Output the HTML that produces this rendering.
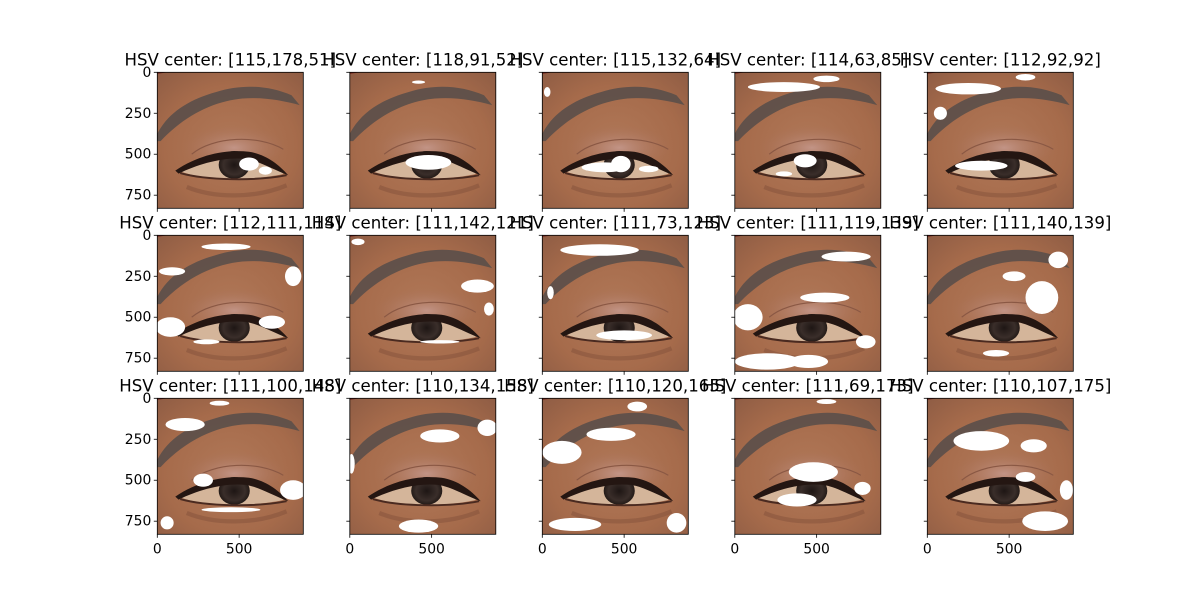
<!DOCTYPE html>
<html><head><meta charset="utf-8"><style>
body{margin:0;background:#fff;width:1200px;height:600px;overflow:hidden;font-family:"Liberation Sans","DejaVu Sans",sans-serif}
svg text{font-family:"DejaVu Sans","Liberation Sans",sans-serif}
</style></head><body>
<svg id="fig" width="1200" height="600" viewBox="0 0 1200 600" xmlns="http://www.w3.org/2000/svg">
<defs>
<radialGradient id="skin" cx="0.5" cy="0.55" r="0.75">
<stop offset="0" stop-color="#b07858"/><stop offset="0.6" stop-color="#a66b4b"/><stop offset="1" stop-color="#8e5c44"/>
</radialGradient>
<radialGradient id="lid" cx="0.5" cy="0.5" r="0.5">
<stop offset="0" stop-color="#c29486"/><stop offset="1" stop-color="#a87058" stop-opacity="0"/>
</radialGradient>
<radialGradient id="iris" cx="0.5" cy="0.5" r="0.5">
<stop offset="0" stop-color="#1e1614"/><stop offset="0.7" stop-color="#3a2e2a"/><stop offset="1" stop-color="#231a17"/>
</radialGradient>
</defs>
</svg>
<script>
const titles=["[115,178,51]","[118,91,52]","[115,132,64]","[114,63,85]","[112,92,92]",
"[112,111,114]","[111,142,121]","[111,73,123]","[111,119,139]","[111,140,139]",
"[111,100,148]","[110,134,158]","[110,120,165]","[111,69,173]","[110,107,175]"];
const yTicks=[0,250,500,750];
const xTicks=[0,500];
const imgW=892, imgH=830;
// white mask blobs per panel [cx,cy,rx,ry] in image coords
const blobs=[
[[560,560,60,40],[660,600,40,25]],
[[480,550,140,45],[420,60,40,10]],
[[380,580,140,30],[480,560,60,50],[30,120,20,30],[650,590,60,20]],
[[300,90,220,30],[560,40,80,20],[430,540,70,40],[300,620,50,15]],
[[250,100,200,35],[80,250,40,40],[600,30,60,20],[330,570,160,30]],
[[80,560,90,60],[90,220,80,25],[420,70,150,20],[830,250,50,60],[700,530,80,40],[300,650,80,15]],
[[780,310,100,40],[850,450,30,40],[50,40,40,20],[550,650,120,10]],
[[350,90,240,35],[500,610,170,30],[50,350,20,40]],
[[80,500,90,80],[200,770,200,50],[450,770,120,40],[680,130,150,30],[550,380,150,30],[800,650,60,40]],
[[700,380,100,100],[800,150,60,50],[530,250,70,30],[420,720,80,20]],
[[170,160,120,40],[380,30,60,15],[280,500,60,40],[830,560,80,60],[450,680,180,15],[60,760,40,40]],
[[550,230,120,40],[840,180,60,50],[420,780,120,40],[10,400,20,60]],
[[120,330,120,70],[420,220,150,40],[580,50,60,30],[200,770,160,40],[820,760,60,60]],
[[480,450,150,60],[380,620,120,40],[780,550,50,40],[560,20,60,15]],
[[330,260,170,60],[650,290,80,40],[720,750,140,60],[600,480,60,30],[850,560,40,60]]
];
const NS="http://www.w3.org/2000/svg";
const fig=document.getElementById('fig');
const x0=157.3, dx=192.5, y0s=[72.3,235.3,398.3], pw=146, ph=136;
function mk(t,a,p){const e=document.createElementNS(NS,t);for(const k in a)e.setAttribute(k,a[k]);(p||fig).appendChild(e);return e;}
titles.forEach((tt,i)=>{
 const r=Math.floor(i/5), c=i%5;
 const X=x0+c*dx, Y=y0s[r];
 const sx=pw/imgW, sy=ph/imgH;
 const g=mk('g',{});
 
 
 const cp=mk('clipPath',{id:'cp'+i},g);mk('rect',{x:0,y:0,width:imgW,height:imgH},cp);
 const im=mk('g',{transform:`translate(${X},${Y}) scale(${sx},${sy})`,'clip-path':`url(#cp${i})`},g);
 
 
 mk('rect',{x:0,y:0,width:imgW,height:imgH,fill:'url(#skin)'},im);
 mk('ellipse',{cx:470,cy:460,rx:320,ry:140,fill:'url(#lid)'},im);
 mk('path',{d:'M0,10 L60,0 L0,0Z',fill:'#7a2a22'},im);
 mk('path',{d:'M-20,420 C40,260 180,170 360,120 C520,70 680,80 820,140 L870,200 C760,170 640,150 520,160 C360,175 180,250 20,420 Z',fill:'#5e504a',opacity:0.95},im);
 mk('path',{d:'M210,500 C340,390 620,380 770,470',stroke:'#8a5844',"stroke-width":7,fill:'none'},im);
 mk('path',{d:'M120,600 C260,520 420,490 560,500 C650,510 720,560 770,620 C650,650 420,660 260,640 Z',fill:'#d4b59a'},im);
 mk('ellipse',{cx:470,cy:565,rx:95,ry:85,fill:'url(#iris)'},im);
 mk('path',{d:'M110,600 C260,500 420,470 560,485 C660,500 740,560 800,628 C700,590 620,540 540,528 C400,515 250,560 130,618Z',fill:'#241612'},im);
 mk('path',{d:'M140,615 C300,660 600,665 790,628',stroke:'#4a2a20',"stroke-width":12,fill:'none'},im);
 mk('path',{d:'M180,700 C350,770 600,770 790,690',stroke:'#7a4a38',"stroke-width":26,fill:'none',opacity:0.4},im);
 blobs[i].forEach(b=>{const e=mk('ellipse',{cx:b[0],cy:b[1],rx:b[2],ry:b[3],fill:'#fff'},im);
  
  });
 const fr=mk('rect',{x:X,y:Y,width:pw,height:ph,fill:'none',stroke:'#000','stroke-width':0.8},g);
 
 
 yTicks.forEach(v=>{const yy=Y+v*sy;mk('line',{x1:X-3.5,x2:X,y1:yy,y2:yy,stroke:'#000','stroke-width':0.8},g);
  if(c===0){const t=mk('text',{x:X-6,y:yy+4.5,'text-anchor':'end','font-size':13.9,fill:'#000'},g);t.textContent=v;
   
   }});
 xTicks.forEach(v=>{const xx=X+v*sx;mk('line',{x1:xx,x2:xx,y1:Y+ph,y2:Y+ph+3.5,stroke:'#000','stroke-width':0.8},g);
  if(r===2){const t=mk('text',{x:xx,y:Y+ph+19,'text-anchor':'middle','font-size':13.9,fill:'#000'},g);t.textContent=v;
   
   }});
 const t=mk('text',{x:X+pw/2,y:Y-7,'text-anchor':'middle','font-size':16.6,fill:'#000'},g);
 t.textContent='HSV center: '+tt;
 
 
});
</script>
</body></html>
